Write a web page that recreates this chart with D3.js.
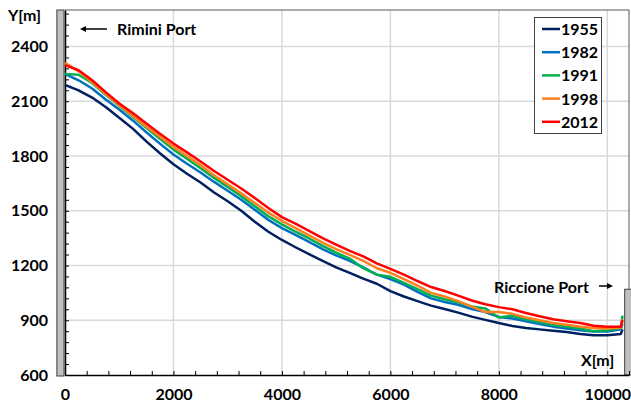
<!DOCTYPE html>
<html>
<head>
<meta charset="utf-8">
<script src="https://cdn.jsdelivr.net/npm/d3@7"></script>
<style>
  body { margin: 0; background: #fff; }
  text { font-family: Lato, "Open Sans", sans-serif; font-weight: bold; }
</style>
</head>
<body>
<div id="chartContainer"></div>
<script>
// shoreline position along the coast (m)
const xs = [0,250,500,750,1000,1250,1500,1750,2000,2250,2500,2750,3000,3250,3500,3750,4000,4250,4500,4750,5000,
            5250,5500,5750,6000,6250,6500,6750,7000,7250,7500,7750,8000,8250,8500,8750,9000,9250,9500,9750,10000,10250,10280];

const y1955 = [2190,2160,2120,2068,2010,1950,1880,1815,1755,1703,1655,1600,1552,1500,1440,1385,1340,1300,1262,1225,1190,
               1160,1128,1100,1060,1030,1005,980,962,942,920,902,885,868,858,850,842,835,825,818,818,825,850];
const y1982 = [2250,2215,2170,2110,2055,1995,1930,1868,1808,1758,1710,1658,1610,1560,1505,1450,1405,1368,1330,1290,1255,
               1225,1190,1150,1125,1095,1055,1020,1000,985,962,945,918,910,895,880,865,855,845,838,838,850,880];
const y1991 = [2250,2245,2200,2135,2075,2015,1955,1895,1835,1785,1733,1680,1630,1580,1525,1470,1425,1385,1348,1308,1270,
               1238,1185,1150,1138,1105,1070,1035,1015,998,975,965,915,925,905,890,875,865,855,840,845,858,925];
const y1998 = [2310,2265,2205,2140,2078,2020,1960,1905,1850,1800,1750,1695,1645,1595,1543,1490,1445,1405,1365,1325,1290,
               1258,1225,1185,1160,1125,1090,1050,1030,1005,975,945,945,935,915,900,885,875,865,858,855,860,905];
const y2012 = [2298,2270,2215,2150,2088,2035,1978,1922,1868,1820,1770,1718,1670,1622,1570,1515,1465,1430,1390,1350,1315,
               1280,1250,1212,1182,1150,1115,1082,1060,1035,1008,988,972,960,940,922,905,895,885,870,865,865,900];

const years = ["1955","1982","1991","1998","2012"];
const colors = ["#002060","#0070c0","#00b050","#ff7f1e","#ff0000"];
const seriesY = [y1955, y1982, y1991, y1998, y2012];

const yTicks = [600,900,1200,1500,1800,2100,2400];
const xTicks = [0,2000,4000,6000,8000,10000];

const W = 631, H = 412;
const margin = {top: 10, right: 2, bottom: 37, left: 65};
const fs = 16;

const x = d3.scaleLinear().domain([0, 10400]).range([margin.left, W - margin.right]);
const y = d3.scaleLinear().domain([600, 2600]).range([H - margin.bottom, margin.top]);

const svg = d3.select("#chartContainer").append("svg")
    .attr("width", W).attr("height", H);

// grid
svg.append("g").selectAll("line").data(yTicks.slice(1))
  .join("line")
    .attr("x1", x(0)).attr("x2", x(10400))
    .attr("y1", d => y(d)).attr("y2", d => y(d))
    .attr("stroke", "#d9d9d9").attr("stroke-width", 1.5);
svg.append("g").selectAll("line").data(xTicks.slice(1))
  .join("line")
    .attr("x1", d => x(d)).attr("x2", d => x(d))
    .attr("y1", y(600)).attr("y2", y(2600))
    .attr("stroke", "#d9d9d9").attr("stroke-width", 1.5);

// frame top/right
svg.append("path")
    .attr("d", `M${x(0)},${y(2600)}H${x(10400)}V${y(600)}`)
    .attr("fill", "none").attr("stroke", "#595959").attr("stroke-width", 1);

// ports (grey blocks)
svg.append("rect")
    .attr("x", x(-150)).attr("y", y(2600))
    .attr("width", x(0) - x(-150) - 1).attr("height", y(600) - y(2600) + 1)
    .attr("fill", "#bfbfbf").attr("stroke", "#404040").attr("stroke-width", 1);
svg.append("rect")
    .attr("x", x(10320)).attr("y", y(1070))
    .attr("width", x(10400) - x(10320) + 4).attr("height", y(600) - y(1070))
    .attr("fill", "#bfbfbf").attr("stroke", "#404040").attr("stroke-width", 1);

// minor ticks
const minorY = d3.range(600, 2601, 60);
const minorX = d3.range(0, 10401, 400);
svg.append("g")
    .attr("transform", `translate(${x(0)},0)`)
    .call(d3.axisRight(y).tickValues(minorY).tickSize(4).tickFormat(""))
    .call(g => g.select(".domain").remove())
    .selectAll("line").attr("stroke", "#000");
svg.append("g")
    .attr("transform", `translate(0,${y(600)})`)
    .call(d3.axisTop(x).tickValues(minorX).tickSize(4).tickFormat(""))
    .call(g => g.select(".domain").remove())
    .selectAll("line").attr("stroke", "#000");

// axis lines and labels
svg.append("g")
    .attr("transform", `translate(${x(0)},0)`)
    .call(d3.axisLeft(y).tickValues(yTicks).tickSize(0).tickPadding(17).tickFormat(d3.format("d")))
    .call(g => g.select(".domain").attr("stroke", "#000").attr("stroke-width", 1.5))
    .call(g => g.selectAll("text").attr("font-size", fs).attr("fill", "#000")
        .style("font-family", "Lato, sans-serif").style("font-weight", "bold"));
svg.append("g")
    .attr("transform", `translate(0,${y(600)})`)
    .call(d3.axisBottom(x).tickValues(xTicks).tickSize(0).tickPadding(14).tickFormat(d3.format("d")))
    .call(g => g.select(".domain").attr("stroke", "#000").attr("stroke-width", 1.5))
    .call(g => g.selectAll("text").attr("font-size", fs).attr("fill", "#000")
        .style("font-family", "Lato, sans-serif").style("font-weight", "bold"));

// shoreline lines
const line = d3.line().x(d => x(d[0])).y(d => y(d[1]));
seriesY.forEach((ys, i) => {
  svg.append("path")
      .datum(xs.map((v, j) => [v, ys[j]]))
      .attr("fill", "none")
      .attr("stroke", colors[i])
      .attr("stroke-width", 2.5)
      .attr("stroke-linejoin", "round")
      .attr("d", line);
});

// labels
svg.append("text").attr("x", 8).attr("y", 21).attr("font-size", fs).text("Y[m]");
svg.append("text").attr("x", 581).attr("y", 366).attr("font-size", fs).text("X[m]");
svg.append("text").attr("x", 117).attr("y", 35).attr("font-size", fs).text("Rimini Port");
svg.append("text").attr("x", 494).attr("y", 293).attr("font-size", fs).text("Riccione Port");

function arrow(x1, x2, yy) {
  const dir = Math.sign(x2 - x1);
  svg.append("line").attr("x1", x1).attr("x2", x2 - dir * 4).attr("y1", yy).attr("y2", yy)
      .attr("stroke", "#000").attr("stroke-width", 1.5);
  svg.append("path")
      .attr("d", `M${x2},${yy}L${x2 - dir * 6},${yy - 3}L${x2 - dir * 6},${yy + 3}Z`)
      .attr("fill", "#000");
}
arrow(107, 80, 29);
arrow(599, 613, 286);

// legend
const lg = svg.append("g");
lg.append("rect").attr("x", 534.5).attr("y", 17.5).attr("width", 67).attr("height", 116)
    .attr("fill", "#fff").attr("stroke", "#404040").attr("stroke-width", 1);
years.forEach((yr, i) => {
  const yy = 29 + i * 23.2;
  lg.append("line").attr("x1", 542).attr("x2", 560).attr("y1", yy).attr("y2", yy)
      .attr("stroke", colors[i]).attr("stroke-width", 2.5);
  lg.append("text").attr("x", 561).attr("y", yy + 6).attr("font-size", fs).text(yr);
});
</script>
</body>
</html>
